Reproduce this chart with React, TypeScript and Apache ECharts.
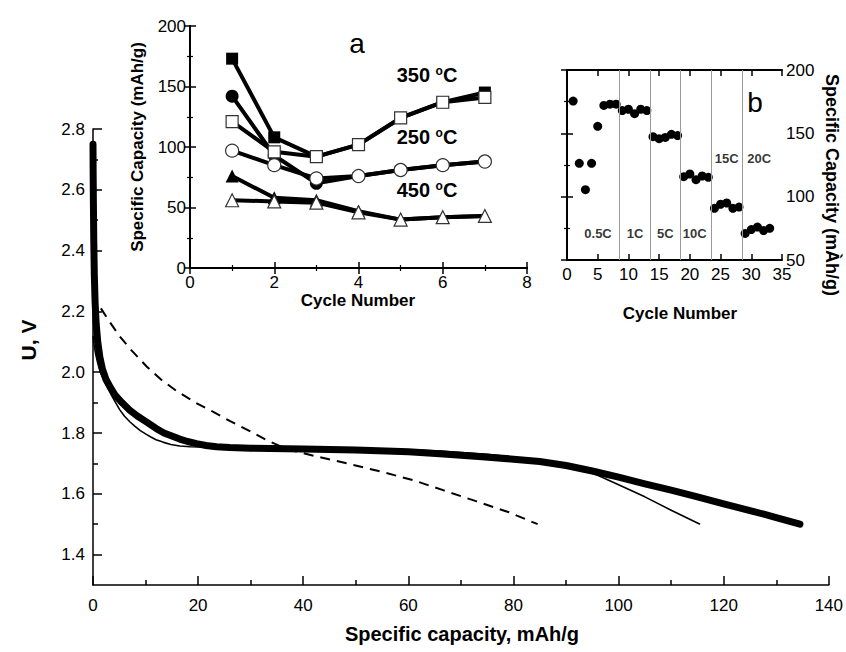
import React, { useEffect, useRef } from 'react';
import * as echarts from 'echarts';

const FONT = "'Liberation Sans', Arial, sans-serif";
const NARROW = "'Liberation Sans Narrow', 'Liberation Sans', Arial, sans-serif";

// ---- main plot: discharge curves ----
const mainYLabels = [1.4, 1.6, 1.8, 2.0, 2.2, 2.4, 2.6, 2.8];
const mainYMinor = [1.5, 1.7, 1.9, 2.1, 2.3, 2.5, 2.7];

const thickCurve: [number, number][] = [
  [0, 2.75], [0.03, 2.65], [0.08, 2.55], [0.15, 2.43], [0.25, 2.32], [0.4, 2.23],
  [0.6, 2.16], [0.9, 2.1], [1.3, 2.05], [1.8, 2.01], [2.5, 1.975], [3.3, 1.95],
  [4.2, 1.925], [5.5, 1.9], [7, 1.875], [8.5, 1.855], [10.3, 1.835], [12, 1.815],
  [13.5, 1.8], [15, 1.79], [16.5, 1.78], [18, 1.772], [19.7, 1.765], [21.5, 1.759],
  [23.5, 1.755], [26, 1.752], [30, 1.75], [40, 1.747], [50, 1.744], [60, 1.738],
  [66, 1.732], [74, 1.722], [80, 1.714], [85, 1.706], [90, 1.693], [95, 1.675],
  [100, 1.655], [105, 1.633], [110, 1.612], [115, 1.59], [120, 1.567], [125, 1.545],
  [130, 1.522], [134.5, 1.5],
];
const thinCurve: [number, number][] = [
  [0, 2.12], [0.2, 2.09], [0.5, 2.06], [0.9, 2.03], [1.4, 2.0], [2.0, 1.975],
  [2.6, 1.955], [3.5, 1.925], [4.3, 1.9], [5.1, 1.876], [6, 1.855], [7, 1.837],
  [8, 1.822], [9, 1.808], [10, 1.797], [11, 1.787], [12, 1.778], [13.3, 1.77],
  [14.8, 1.762], [16.5, 1.757], [18.5, 1.755], [22, 1.753], [30, 1.751], [45, 1.749],
  [60, 1.745], [66, 1.741], [75, 1.73], [85, 1.711], [90, 1.695], [93, 1.68],
  [95.9, 1.662], [100, 1.63], [105, 1.59], [110, 1.546], [115.5, 1.5],
];
const dashedCurve: [number, number][] = [
  [1.5, 2.21], [3, 2.17], [5, 2.12], [7, 2.078], [10.3, 2.017], [13, 1.975],
  [16, 1.937], [19.5, 1.9], [22.8, 1.87], [26, 1.84], [30, 1.805], [33, 1.777],
  [35.6, 1.757], [38.5, 1.74], [42, 1.725], [48.3, 1.7], [55, 1.672], [60.9, 1.645],
  [66.6, 1.612], [73, 1.575], [79, 1.54], [84.6, 1.5],
];

// ---- inset a: capacity vs cycle for annealing temperatures ----
const cyclesA = [1, 2, 3, 4, 5, 6, 7];
const t350Filled = [173, 108, 92, 102, 124, 137, 145];
const t350Open = [121, 96, 92, 102, 124, 137, 141];
const t250Filled = [142, 93, 70, 76, 81, 85, 88];
const t250Open = [97, 85, 74, 76, 81, 85, 88];
const t450Filled = [76, 58, 56, 47, 40, 42, 43];
const t450Open = [56, 55, 54, 46, 40, 42, 43];

// ---- inset b: rate capability ----
const cyclesB = [1, 2, 3, 4, 5, 6, 7, 8, 9, 10, 11, 12, 13, 14, 15, 16, 17, 18, 19, 20, 21, 22, 23, 24, 25, 26, 27, 28, 29, 30, 31, 32, 33];
const capB = [175.5, 126.3, 105.5, 126.3, 155.5, 172, 173, 173, 168, 169, 165.5, 169, 168, 147.4, 145.8, 146.8, 149.2, 148.2, 115.8, 117.9, 113.4, 116.3, 115.3, 90.8, 94, 95, 90.8, 91.8, 71, 74, 76, 73.2, 75];
const rateBoundaries = [8.5, 13.5, 18.5, 23.5, 28.5];
const rateLabels = ['0.5C', '1C', '5C', '10C', '15C', '20C'];
const rateLabelX = [5.05, 11.1, 16, 20.8, 26, 31.3];
const rateLabelY = [71, 71, 71, 71, 130, 130];

const pairs = (xs: number[], ys: number[]) => xs.map((x, i) => [x, ys[i]]);

const axisLineStyle = (w: number) => ({ show: true, lineStyle: { color: '#000', width: w } });

export default function App() {
  const ref = useRef<HTMLDivElement>(null);
  useEffect(() => {
    if (!ref.current) return;
    const chart = echarts.init(ref.current, undefined, { renderer: 'svg' });

    const tickLabel = { color: '#000', fontSize: 17, fontFamily: FONT };
    const insetX = (grid: number, min: number, max: number, interval: number, top: boolean, minor: boolean) => ({
      type: 'value', gridIndex: grid, min, max, interval, position: top ? 'top' : 'bottom',
      axisLine: axisLineStyle(2),
      axisTick: { show: true, inside: true, length: 6, lineStyle: { color: '#000', width: 1.5 } },
      minorTick: { show: minor, splitNumber: 2, length: 3, lineStyle: { color: '#000', width: 1.2 } },
      axisLabel: top ? { show: false } : { ...tickLabel, margin: 6 },
      splitLine: { show: false }, minorSplitLine: { show: false },
    });
    const insetY = (grid: number, min: number, max: number, interval: number, right: boolean, labels: boolean) => ({
      type: 'value', gridIndex: grid, min, max, interval, position: right ? 'right' : 'left',
      axisLine: axisLineStyle(2),
      axisTick: { show: true, inside: true, length: 6, lineStyle: { color: '#000', width: 1.5 } },
      minorTick: { show: true, splitNumber: 2, length: 3, lineStyle: { color: '#000', width: 1.2 } },
      axisLabel: labels ? { ...tickLabel, margin: 4 } : { show: false },
      splitLine: { show: false }, minorSplitLine: { show: false },
    });

    const lineA = (name: string, data: number[], symbol: string, size: number, open: boolean) => ({
      type: 'line', name, xAxisIndex: 1, yAxisIndex: 2,
      data: pairs(cyclesA, data), symbol, symbolSize: size, showSymbol: true,
      lineStyle: { color: '#000', width: 4 },
      itemStyle: open ? { color: '#fff', borderColor: '#333', borderWidth: 1.2 } : { color: '#000', borderColor: '#000', borderWidth: 0 },
      z: open ? 4 : 3,
    });

    const tempText = (x: number, y: number, t: string) => ({
      type: 'text', x, y,
      style: {
        text: `{n|${t} }{s|o}{n|C}`,
        align: 'center', verticalAlign: 'middle',
        rich: {
          n: { fontSize: 20, fontWeight: 'bold', fontFamily: FONT, fill: '#000' },
          s: { fontSize: 12, fontWeight: 'bold', fontFamily: FONT, fill: '#000', verticalAlign: 'top' },
        },
      },
    });

    const title = (x: number, y: number, text: string, size: number, rotation = 0, family = FONT, bold = true) => ({
      type: 'text', x, y, rotation,
      style: { text, align: 'center', verticalAlign: 'middle', fontSize: size, fontWeight: bold ? 'bold' : 'normal', fontFamily: family, fill: '#000' },
    });

    chart.setOption({
      animation: false,
      backgroundColor: '#fff',
      grid: [
        { left: 93, top: 129, width: 736, height: 456 },
        { left: 190, top: 26, width: 337, height: 242 },
        { left: 567, top: 70, width: 215, height: 190 },
      ],
      xAxis: [
        {
          type: 'value', gridIndex: 0, min: 0, max: 140, interval: 20,
          axisLine: axisLineStyle(1.5),
          axisTick: { show: true, inside: true, length: 9, lineStyle: { color: '#000', width: 1.5 } },
          minorTick: { show: true, splitNumber: 2, length: 5, lineStyle: { color: '#000', width: 1.5 } },
          axisLabel: { color: '#000', fontSize: 17, fontFamily: NARROW, margin: 12 },
          splitLine: { show: false }, minorSplitLine: { show: false },
        },
        insetX(1, 0, 8, 2, false, true),
        insetX(1, 0, 8, 2, true, true),
        insetX(2, 0, 35, 5, false, false),
        insetX(2, 0, 35, 5, true, false),
      ],
      yAxis: [
        {
          type: 'value', gridIndex: 0, min: 1.3, max: 2.8, position: 'left',
          axisLine: axisLineStyle(1.5),
          axisTick: { show: true, inside: true, length: 9, customValues: mainYLabels, lineStyle: { color: '#000', width: 1.5 } },
          axisLabel: { color: '#000', fontSize: 17, fontFamily: FONT, margin: 8, customValues: mainYLabels, formatter: (v: number) => v.toFixed(1) },
          splitLine: { show: false },
        },
        {
          type: 'value', gridIndex: 0, min: 1.3, max: 2.8, position: 'left', offset: 0,
          axisLine: { show: false },
          axisTick: { show: true, inside: true, length: 5, customValues: mainYMinor, lineStyle: { color: '#000', width: 1.5 } },
          axisLabel: { show: false },
          splitLine: { show: false },
        },
        insetY(1, 0, 200, 50, false, true),
        insetY(1, 0, 200, 50, true, false),
        insetY(2, 50, 200, 50, true, true),
        insetY(2, 50, 200, 50, false, false),
      ],
      series: [
        {
          type: 'line', name: 'dashed', xAxisIndex: 0, yAxisIndex: 0, data: dashedCurve,
          showSymbol: false, smooth: false,
          lineStyle: { color: '#000', width: 2, type: [10, 7] }, z: 2,
        },
        {
          type: 'line', name: 'thick', xAxisIndex: 0, yAxisIndex: 0, data: thickCurve,
          showSymbol: false, smooth: false,
          lineStyle: { color: '#000', width: 7, cap: 'round', join: 'round' }, z: 2,
        },
        {
          type: 'line', name: 'thin', xAxisIndex: 0, yAxisIndex: 0, data: thinCurve,
          showSymbol: false, smooth: false,
          lineStyle: { color: '#000', width: 1.6, join: 'round' }, z: 3,
        },
        lineA('350 filled', t350Filled, 'rect', 12, false),
        lineA('250 filled', t250Filled, 'circle', 13, false),
        lineA('450 filled', t450Filled, 'triangle', 13, false),
        lineA('350 open', t350Open, 'rect', 12, true),
        lineA('250 open', t250Open, 'circle', 13, true),
        lineA('450 open', t450Open, 'triangle', 13, true),
        {
          type: 'scatter', name: 'rate', xAxisIndex: 3, yAxisIndex: 4,
          data: pairs(cyclesB, capB), symbol: 'circle', symbolSize: 9,
          itemStyle: { color: '#000', opacity: 1 },
          markLine: {
            silent: true, symbol: ['none', 'none'], label: { show: false },
            lineStyle: { color: '#9a9a9a', width: 1, type: 'solid' },
            data: rateBoundaries.map((v) => ({ xAxis: v })),
          },
        },
        {
          type: 'scatter', name: 'rateLabels', xAxisIndex: 3, yAxisIndex: 4,
          symbolSize: 1, itemStyle: { color: 'rgba(0,0,0,0)' },
          data: rateLabels.map((n, i) => ({ name: n, value: [rateLabelX[i], rateLabelY[i]] })),
          label: { show: true, position: 'inside', formatter: '{b}', color: '#000', fontSize: 13, fontWeight: 'bold', fontFamily: FONT },
        },
      ],
      graphic: [
        title(28, 340, 'U, V', 21, Math.PI / 2),
        title(462, 634, 'Specific capacity, mAh/g', 20, 0, NARROW),
        title(137, 147, 'Specific Capacity (mAh/g)', 17, Math.PI / 2),
        title(358, 300, 'Cycle Number', 17),
        title(832, 185, 'Specific Capacity (mÀh/g)', 18, -Math.PI / 2),
        title(680, 313, 'Cycle Number', 17),
        title(357, 43, 'a', 28, 0, FONT, false),
        title(755, 102, 'b', 28, 0, FONT, false),
        tempText(427, 75, '350'),
        tempText(427, 137, '250'),
        tempText(427, 190, '450'),
      ],
    });
    return () => chart.dispose();
  }, []);
  return <div ref={ref} style={{ position: 'fixed', left: 0, top: 0, width: 846, height: 652 }} />;
}
